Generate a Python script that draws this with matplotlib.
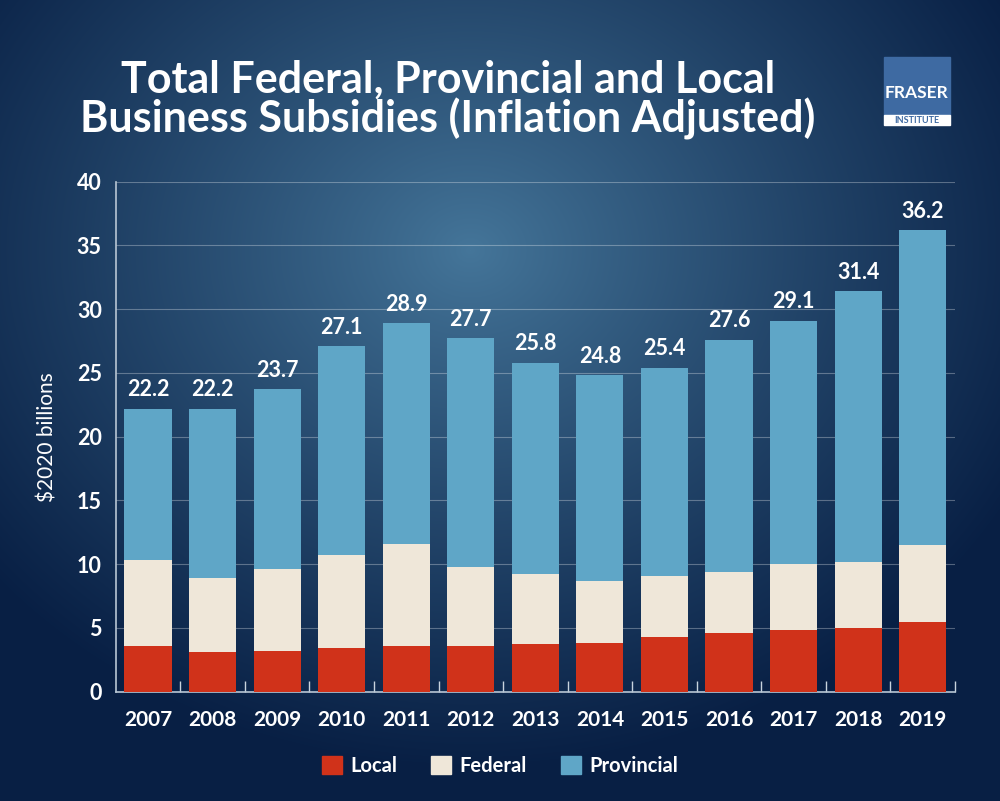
import matplotlib.pyplot as plt
from matplotlib.patches import Patch, Rectangle
import numpy as np

plt.rcParams['font.family'] = ['Lato', 'DejaVu Sans']

years = ['2007', '2008', '2009', '2010', '2011', '2012', '2013',
         '2014', '2015', '2016', '2017', '2018', '2019']
totals = [22.2, 22.2, 23.7, 27.1, 28.9, 27.7, 25.8, 24.8, 25.4, 27.6, 29.1, 31.4, 36.2]
local = [3.6, 3.1, 3.2, 3.4, 3.6, 3.6, 3.7, 3.8, 4.3, 4.6, 4.8, 5.0, 5.5]
federal = [6.7, 5.8, 6.4, 7.3, 8.0, 6.2, 5.5, 4.9, 4.8, 4.8, 5.2, 5.2, 6.0]

# provincial = what is left of the total
provincial = [t - l - f for t, l, f in zip(totals, local, federal)]

c_local = '#d0321a'
c_fed = '#efe7d9'
c_prov = '#5fa6c7'

fig = plt.figure(figsize=(10, 8.01), dpi=100)

# radial gradient background
bg = fig.add_axes([0, 0, 1, 1])
bg.set_axis_off()
yy, xx = np.mgrid[0:801, 0:1000]
r = np.sqrt(((xx - 470) / 620.0) ** 2 + ((yy - 250) / 520.0) ** 2)
r = np.clip(r, 0, 1)
light = np.array([0x45, 0x76, 0x9a]) / 255.0
dark = np.array([0x08, 0x1f, 0x44]) / 255.0
t = r[..., None] ** 0.9
img = light * (1 - t) + dark * t
bg.imshow(img, extent=[0, 1, 0, 1], aspect='auto', origin='upper')
bg.set_xlim(0, 1)
bg.set_ylim(0, 1)

ax = fig.add_axes([0.1157, 0.1365, 0.8393, 0.6367])
ax.patch.set_alpha(0)
x = np.arange(len(years))
w = 0.73
ax.bar(x, local, w, color=c_local, zorder=3)
ax.bar(x, federal, w, bottom=local, color=c_fed, zorder=3)
fed_top = [l + f for l, f in zip(local, federal)]
ax.bar(x, provincial, w, bottom=fed_top, color=c_prov, zorder=3)

for i, tot in enumerate(totals):
    ax.annotate(f'{tot:.1f}', (x[i], tot), xytext=(0, 6), textcoords='offset points',
                ha='center', va='bottom', color='white', fontsize=15.5, fontweight='bold')

ax.set_xlim(-0.5, len(years) - 0.5)
ax.set_ylim(0, 40)
ax.set_yticks(range(0, 41, 5))
ax.yaxis.grid(True, color='white', alpha=0.3, linewidth=0.8, zorder=0)
ax.set_axisbelow(True)
ax.set_xticks(x)
ax.set_xticklabels(years, fontsize=15, fontweight='bold', color='white')
ax.set_xticks(np.arange(0.5, len(years) - 0.5 + 0.01, 1), minor=True)
ax.tick_params(axis='x', which='major', length=0, pad=13)
ax.tick_params(axis='x', which='minor', direction='in', length=8, color='#c8d3de', width=1)
ax.tick_params(axis='y', length=0, pad=10, labelsize=15.5, labelcolor='white')
for lbl in ax.get_yticklabels():
    lbl.set_fontweight('bold')
for s in ['top', 'right']:
    ax.spines[s].set_visible(False)
for s in ['left', 'bottom']:
    ax.spines[s].set_color('#b8c6d4')
    ax.spines[s].set_linewidth(1.2)
ax.set_ylabel('$2020 billions', color='white', fontsize=15, labelpad=14)

fig.text(0.448, 0.90, 'Total Federal, Provincial and Local', ha='center', va='center',
         color='white', fontsize=31, fontweight='bold')
fig.text(0.448, 0.851, 'Business Subsidies (Inflation Adjusted)', ha='center', va='center',
         color='white', fontsize=31, fontweight='bold')

# logo
fig.patches.append(Rectangle((0.884, 1 - 115 / 801), 0.066, 58 / 801,
                             transform=fig.transFigure, color='#3e6aa2'))
fig.patches.append(Rectangle((0.884, 1 - 125 / 801), 0.066, 10 / 801,
                             transform=fig.transFigure, color='white'))
fig.text(0.917, 1 - 93 / 801, 'FRASER', ha='center', va='center', color='white',
         fontsize=12.5, fontweight='bold')
fig.text(0.917, 1 - 120.5 / 801, 'INSTITUTE', ha='center', va='center', color='#3e6aa2',
         fontsize=6.5, fontweight='bold')

handles = [Patch(color=c_local, label='Local'),
           Patch(color=c_fed, label='Federal'),
           Patch(color=c_prov, label='Provincial')]
leg = fig.legend(handles=handles, loc='center', bbox_to_anchor=(0.5, 0.044), ncol=3,
                 frameon=False, handlelength=1.0, handleheight=1.0, columnspacing=1.7,
                 handletextpad=0.4, fontsize=14.5)
for txt in leg.get_texts():
    txt.set_color('white')
    txt.set_fontweight('bold')

fig.savefig('out.png', dpi=100)
